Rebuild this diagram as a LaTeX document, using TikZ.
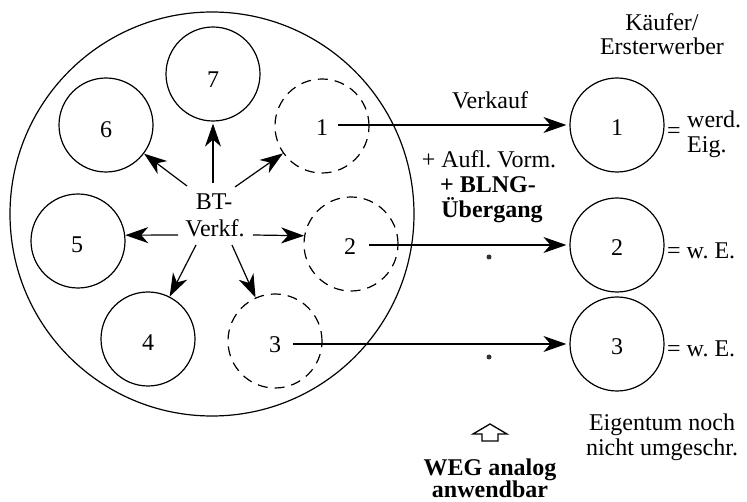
\documentclass[tikz,border=0pt]{standalone}
\usepackage{fontspec}
\setmainfont{Liberation Serif}
\usetikzlibrary{arrows.meta}
\frenchspacing
\begin{document}
\begin{tikzpicture}[x=1pt,y=-1pt,
  every node/.style={font=\fontsize{24}{27}\selectfont, inner sep=0pt},
  circ/.style={draw, circle, minimum size=94pt, inner sep=0pt, line width=1.2pt},
  dcirc/.style={circ, dash pattern=on 10pt off 7pt},
  arr/.style={-{Stealth[length=23pt,width=16pt,inset=7pt]}, line width=1.2pt},
  lbl/.style={anchor=base},
  dotmark/.style={fill=black!80, circle, minimum size=5pt}]
\useasboundingbox (0,0) rectangle (747,502);
% big circle
\node[circ, minimum size=404pt] (big) at (212,214) {};
% circles inside
\node[circ]  (c7) at (213,74) {};
\node[circ]  (c6) at (106,125) {};
\node[circ]  (c5) at (78,241) {};
\node[circ]  (c4) at (148,339) {};
\node[dcirc] (c1) at (322,126) {};
\node[dcirc] (c2) at (351,244) {};
\node[dcirc] (c3) at (275,341) {};
\node (d7) at (213,80) {7};
\node (d6) at (106,130) {6};
\node (d5) at (77,245) {5};
\node (d4) at (148,343) {4};
\node (d1) at (322,128) {1};
\node (d2) at (350,247) {2};
\node (d3) at (275,345) {3};
% centre text
\node[lbl] (bt1) at (214,210) {BT-};
\node[lbl] (bt2) at (215,237) {Verkf.};
\coordinate (s7) at (213,183);
\coordinate (s6) at (187,186);
\coordinate (s1) at (235,187);
\coordinate (s5) at (178,235);
\coordinate (s2) at (253,235);
\coordinate (s4) at (196,245);
\coordinate (s3) at (232,245);
\draw[arr, shorten >=2pt] (s7) -- (c7);
\draw[arr] (s6) -- (c6);
\draw[arr] (s1) -- (c1);
\draw[arr] (s5) -- (c5.7);
\draw[arr] (s2) -- (c2.170);
\draw[arr] (s4) -- (c4);
\draw[arr] (s3) -- (c3);
% right circles
\node[circ] (r1) at (617,125) {};
\node[circ] (r2) at (617,245) {};
\node[circ] (r3) at (617,344) {};
\node (e1) at (617,128) {1};
\node (e2) at (617,248) {2};
\node (e3) at (617,347) {3};
\coordinate (a1) at (338,125);
\coordinate (a2) at (369,245);
\coordinate (a3) at (293,344);
\draw[arr, shorten >=3pt] (a1) -- (r1.west);
\draw[arr, shorten >=3pt] (a2) -- (r2.west);
\draw[arr, shorten >=3pt] (a3) -- (r3.west);
% arrow labels
\node[lbl] (verkauf) at (490,109) {Verkauf};
\node[lbl] (aufl) at (489,168) {+ Aufl. Vorm.};
\node[lbl] (blng) at (488,193) {\textbf{+ BLNG-}};
\node[lbl] (ueb) at (492,218) {\textbf{Übergang}};
\node[dotmark] (m2) at (489,257) {};
\node[dotmark] (m3) at (489,357) {};
% right labels
\node[lbl] (kaeufer) at (662,31) {Käufer/};
\node[lbl] (erst) at (662,55) {Ersterwerber};
\node (eq1) at (674,133) {=};
\node[lbl, anchor=base west] (werd) at (687,128) {werd.};
\node[lbl, anchor=base west] (eig) at (687,153) {Eig.};
\node[anchor=base west] (we2) at (667,259) {= w. E.};
\node[anchor=base west] (we3) at (667,357) {= w. E.};
\node[lbl] (eigen) at (662,430) {Eigentum noch};
\node[lbl] (nicht) at (662,455) {nicht umgeschr.};
% open arrow and WEG text
\draw[line width=1.3pt, line join=miter] (482,441) -- (498,441) -- (498,434) -- (507,434) -- (490,424) -- (473,434) -- (482,434) -- cycle;
\node[lbl] (weg) at (490,475) {\textbf{WEG analog}};
\node[lbl] (anw) at (490,497) {\textbf{anwendbar}};
\end{tikzpicture}
\end{document}
